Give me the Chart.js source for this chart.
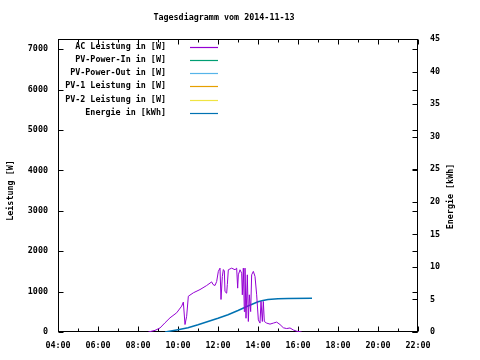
<!DOCTYPE html>
<html>
<head>
<meta charset="utf-8">
<script src="https://cdn.jsdelivr.net/npm/chart.js@4"></script>
<style>
  body { margin: 0; background: #fff; }
  canvas { display: block; }
</style>
</head>
<body>
<canvas id="chart" width="480" height="360"></canvas>
<script>
// values
const acTimes = ["08:31","08:51","09:06","09:21","09:36","09:56","10:11","10:16","10:21","10:26","10:31","10:46","11:06","11:26","11:41","11:45","11:51","11:56","12:01","12:06","12:09","12:13","12:16","12:19","12:21","12:26","12:28","12:31","12:41","12:51","12:56","12:59","13:01","13:06","13:11","13:13","13:16","13:19","13:21","13:24","13:28","13:31","13:34","13:38","13:41","13:46","13:51","13:56","14:01","14:06","14:09","14:13","14:16","14:19","14:26","14:36","14:46","14:56","15:06","15:16","15:26","15:36","15:46","15:56","16:11"];
const acWatts = [0,40,100,228,351,475,640,740,185,390,885,970,1050,1150,1240,1175,1150,1250,1500,1580,805,1375,1545,1510,1000,960,1175,1540,1580,1540,1580,1085,1415,1540,1455,920,1580,505,1580,340,1415,260,920,505,1415,1500,1375,920,300,220,755,260,755,260,220,195,220,245,185,105,85,100,50,20,0];

const energyTimes = ["09:21","10:00","10:30","11:00","11:30","12:00","12:30","13:00","13:30","14:00","14:15","14:30","15:00","15:30","16:42"];
const energyKWh = [0,0.35,0.65,1.1,1.6,2.1,2.65,3.3,4.0,4.65,4.85,5.0,5.1,5.15,5.2];

const seriesLabels = ["AC Leistung in [W]","PV-Power-In in [W]","PV-Power-Out in [W]","PV-1 Leistung in [W]","PV-2 Leistung in [W]","Energie in [kWh]"];
const seriesColors = ["#9400d3","#009e73","#56b4e9","#e69f00","#f0e442","#0072b2"];

const xTickLabels = ["04:00","06:00","08:00","10:00","12:00","14:00","16:00","18:00","20:00","22:00"];
const yTicks = [0,1000,2000,3000,4000,5000,6000,7000];
const y2Ticks = [0,5,10,15,20,25,30,35,40,45];

const FONT = "DejaVu Sans Mono";
const FSIZE = 8.4;
const FONTSTR = "bold " + FSIZE + "px '" + FONT + "'";

function toHours(s) {
  const [h, m] = s.split(":").map(Number);
  return h + m / 60;
}
function points(times, vals) {
  return times.map((t, i) => ({ x: toHours(t), y: vals[i] }));
}

// gnuplot-like frame, inward ticks, titles and legend
const gnuplotBits = {
  id: "gnuplotBits",
  beforeDatasetsDraw(chart) {
    const ctx = chart.ctx;
    const a = chart.chartArea;
    const xs = chart.scales.x, ys = chart.scales.y, y2s = chart.scales.y2;
    const l = Math.round(a.left) + 0.5, r = Math.round(a.right) - 0.5;
    const t = Math.round(a.top) + 0.5, b = Math.round(a.bottom) - 0.5;
    ctx.save();
    ctx.strokeStyle = "#000";
    ctx.lineWidth = 1;
    ctx.strokeRect(l, t, r - l, b - t);
    ctx.beginPath();
    for (let h = 4; h <= 22; h++) {
      const px = Math.round(xs.getPixelForValue(h)) + 0.5;
      const len = h % 2 === 0 ? 5 : 3;
      ctx.moveTo(px, b); ctx.lineTo(px, b - len);
      ctx.moveTo(px, t); ctx.lineTo(px, t + len);
    }
    yTicks.forEach(v => {
      const py = Math.round(ys.getPixelForValue(v)) + 0.5;
      ctx.moveTo(l, py); ctx.lineTo(l + 5, py);
      ctx.moveTo(r, py); ctx.lineTo(r - 5, py);
    });
    y2Ticks.forEach(v => {
      const py = Math.round(y2s.getPixelForValue(v)) + 0.5;
      ctx.moveTo(r, py); ctx.lineTo(r - 5, py);
    });
    ctx.stroke();

    ctx.fillStyle = "#000";
    ctx.font = FONTSTR;
    ctx.textAlign = "center";
    ctx.textBaseline = "middle";
    ctx.fillText("Tagesdiagramm vom 2014-11-13", 224, 18);

    const mid = (a.top + a.bottom) / 2 + 5;
    ctx.save();
    ctx.translate(10.5, mid);
    ctx.rotate(-Math.PI / 2);
    ctx.fillText("Leistung [W]", 0, 0);
    ctx.restore();
    ctx.save();
    ctx.translate(450.5, mid + 6);
    ctx.rotate(-Math.PI / 2);
    ctx.fillText("Energie [kWh]", 0, 0);
    ctx.restore();

    chart.data.datasets.forEach((ds, i) => {
      const y = 46.7 + i * 13.2;
      ctx.fillStyle = "#000";
      ctx.textAlign = "right";
      ctx.fillText(ds.label, 166, y);
      ctx.strokeStyle = seriesColors[i];
      ctx.lineWidth = 1.2;
      ctx.beginPath();
      ctx.moveTo(190, Math.round(y) + 0.5);
      ctx.lineTo(218, Math.round(y) + 0.5);
      ctx.stroke();
    });
    ctx.restore();
  }
};

const tickFont = { family: FONT, size: FSIZE, weight: "bold" };

new Chart(document.getElementById("chart"), {
  type: "line",
  data: {
    datasets: seriesLabels.map((label, i) => ({
      label: label,
      data: i === 0 ? points(acTimes, acWatts) : i === 5 ? points(energyTimes, energyKWh) : [],
      borderColor: seriesColors[i],
      backgroundColor: seriesColors[i],
      borderWidth: i === 5 ? 1.5 : 1,
      yAxisID: i === 5 ? "y2" : "y",
    })),
  },
  options: {
    responsive: false,
    animation: false,
    devicePixelRatio: 1,
    layout: { padding: { top: 39, left: 0, right: 0, bottom: 0 } },
    elements: { point: { radius: 0 }, line: { tension: 0 } },
    plugins: {
      legend: { display: false },
      title: { display: false },
      tooltip: { enabled: false },
    },
    scales: {
      x: {
        type: "linear",
        min: 4,
        max: 22,
        grid: { display: false, drawTicks: false },
        border: { display: false },
        ticks: {
          stepSize: 2,
          autoSkip: false,
          maxRotation: 0,
          padding: 9,
          color: "#000",
          font: tickFont,
          callback: v => xTickLabels[(v - 4) / 2] || "",
        },
        afterFit: s => { s.height = 28; },
      },
      y: {
        position: "left",
        min: 0,
        max: 7250,
        grid: { display: false, drawTicks: false },
        border: { display: false },
        ticks: { padding: 10, color: "#000", font: tickFont, callback: v => String(v) },
        afterBuildTicks: s => { s.ticks = yTicks.map(v => ({ value: v })); },
        afterFit: s => { s.width = 58; },
      },
      y2: {
        position: "right",
        min: 0,
        max: 45,
        grid: { display: false, drawTicks: false },
        border: { display: false },
        ticks: { padding: 12, color: "#000", font: tickFont, callback: v => String(v) },
        afterBuildTicks: s => { s.ticks = y2Ticks.map(v => ({ value: v })); },
        afterFit: s => { s.width = 62; },
      },
    },
  },
  plugins: [gnuplotBits],
});
</script>
</body>
</html>
